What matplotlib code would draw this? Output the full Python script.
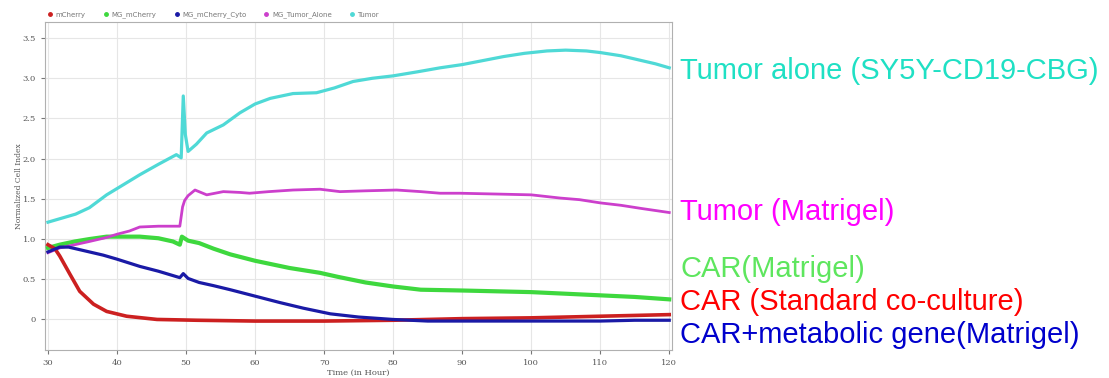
import matplotlib
matplotlib.use("Agg")
import matplotlib.pyplot as plt
from matplotlib.lines import Line2D

# series (time in hours, normalized cell index)
t_tumor = [30, 32, 34, 36, 38.5, 41, 43.3, 46, 48.6, 49.3, 49.6, 49.9, 50.3, 51.5, 53, 55.4, 57.8,
           60, 62.2, 65.5, 68.9, 71.5, 74.2, 77, 80, 83.5, 86.8, 90, 93, 96, 99, 102.3, 105, 108,
           110, 113, 116, 118, 120]
v_tumor = [1.21, 1.26, 1.31, 1.39, 1.55, 1.68, 1.80, 1.93, 2.05, 2.01, 2.78, 2.30, 2.09, 2.18, 2.32,
           2.42, 2.57, 2.68, 2.75, 2.81, 2.82, 2.88, 2.96, 3.00, 3.03, 3.08, 3.13, 3.17, 3.22, 3.27,
           3.31, 3.34, 3.35, 3.34, 3.32, 3.28, 3.22, 3.18, 3.13]

t_mg_tumor = [30, 31.7, 33.9, 36, 38.5, 40, 41.8, 43.3, 46, 49.1, 49.5, 49.8, 50.3, 51.3, 53, 55.4,
              57.8, 59.2, 62, 65.5, 69.4, 72.3, 76, 80.5, 84, 86.8, 89.7, 95, 100, 104.2, 107, 110,
              113, 116, 120]
v_mg_tumor = [0.83, 0.89, 0.93, 0.97, 1.02, 1.06, 1.10, 1.15, 1.16, 1.16, 1.40, 1.48, 1.54, 1.61,
              1.55, 1.59, 1.58, 1.57, 1.59, 1.61, 1.62, 1.59, 1.60, 1.61, 1.59, 1.57, 1.57, 1.56,
              1.55, 1.51, 1.49, 1.45, 1.42, 1.38, 1.33]

t_mg_mcherry = [30, 31.7, 33.9, 36, 38.5, 41, 43.3, 46, 48.1, 49.1, 49.4, 50.3, 51.9, 54, 56.4, 60,
                65, 69.4, 72, 76, 80, 84, 90, 95, 100, 105, 110, 115, 120]
v_mg_mcherry = [0.89, 0.93, 0.97, 1.00, 1.03, 1.03, 1.03, 1.01, 0.97, 0.93, 1.03, 0.98, 0.95, 0.88,
                0.81, 0.73, 0.64, 0.58, 0.53, 0.46, 0.41, 0.37, 0.36, 0.35, 0.34, 0.32, 0.30, 0.28,
                0.25]

t_cyto = [30, 31.7, 33, 35, 38, 40, 43.3, 46, 49.1, 49.6, 50.3, 51.9, 54, 56.4, 60, 63.6, 67, 70.9,
          75, 80, 85, 90, 95, 100, 105, 110, 115, 120]
v_cyto = [0.84, 0.90, 0.90, 0.86, 0.80, 0.75, 0.66, 0.60, 0.52, 0.57, 0.51, 0.46, 0.42, 0.37, 0.29,
          0.21, 0.14, 0.07, 0.03, 0.00, -0.02, -0.02, -0.02, -0.02, -0.02, -0.02, -0.01, -0.01]

t_mcherry = [30, 31, 31.7, 33.2, 34.6, 36.6, 38.5, 41.4, 45.8, 51.6, 60, 70, 80, 90, 100, 110, 120]
v_mcherry = [0.93, 0.88, 0.79, 0.56, 0.35, 0.19, 0.10, 0.04, 0.00, -0.01, -0.02, -0.02, -0.01, 0.01,
             0.02, 0.04, 0.06]

x_ticks = [30, 40, 50, 60, 70, 80, 90, 100, 110, 120]
y_ticks = [0, 0.5, 1.0, 1.5, 2.0, 2.5, 3.0, 3.5]
y_tick_labels = ["0", "0.5", "1.0", "1.5", "2.0", "2.5", "3.0", "3.5"]

legend_names = ["mCherry", "MG_mCherry", "MG_mCherry_Cyto", "MG_Tumor_Alone", "Tumor"]
right_labels = ["Tumor alone (SY5Y-CD19-CBG)", "Tumor (Matrigel)", "CAR(Matrigel)",
                "CAR (Standard co-culture)", "CAR+metabolic gene(Matrigel)"]

fig = plt.figure(figsize=(11.09, 3.78), dpi=100)
ax = fig.add_axes([45 / 1109, 1 - 350 / 378, 627 / 1109, 328 / 378])

ax.plot(t_tumor, v_tumor, color="#4fd9d6", lw=2.3, zorder=3)
ax.plot(t_mg_tumor, v_mg_tumor, color="#cc3fcc", lw=2.0, zorder=4)
ax.plot(t_mg_mcherry, v_mg_mcherry, color="#3ed83e", lw=3.0, zorder=3)
ax.plot(t_mcherry, v_mcherry, color="#cc2020", lw=2.6, zorder=5)
ax.plot(t_cyto, v_cyto, color="#1a1aa6", lw=2.3, zorder=6)

ax.set_xlim(29.57, 120.4)
ax.set_ylim(-0.38, 3.70)
ax.set_xticks(x_ticks)
ax.set_yticks(y_ticks)
ax.set_yticklabels(y_tick_labels)
ax.grid(True, color="#e6e6e6", lw=0.8)
ax.set_axisbelow(True)
for s in ax.spines.values():
    s.set_color("#b0b0b0")
    s.set_linewidth(0.8)
ax.tick_params(labelsize=6, colors="#777777", length=3, width=0.8, labelcolor="#555555")
for lab in ax.get_xticklabels() + ax.get_yticklabels():
    lab.set_family("DejaVu Serif")

ax.set_xlabel("Time (in Hour)", fontsize=6, color="#555555", family="DejaVu Serif", labelpad=1)
ax.set_ylabel("Normalized Cell Index", fontsize=5.5, color="#555555", family="DejaVu Serif",
              labelpad=0)

marker_colors = ["#cc2020", "#3ed83e", "#1a1aa6", "#cc3fcc", "#4fd9d6"]
handles = [Line2D([], [], ls="", marker="o", ms=2.5, color=c) for c in marker_colors]
leg = fig.legend(handles, legend_names, loc="center left", bbox_to_anchor=(44 / 1109, 1 - 15 / 378),
                 ncol=5, fontsize=5, frameon=False, handletextpad=0.3, columnspacing=2.4,
                 handlelength=1.0, borderaxespad=0)
for txt in leg.get_texts():
    txt.set_color("#777777")

label_colors = ["#1fe0c4", "#ff00ff", "#5ee65e", "#ff0000", "#0000cc"]
label_y = [71, 212, 269, 302, 335]
for lab, c, y in zip(right_labels, label_colors, label_y):
    fig.text(680 / 1109, 1 - y / 378, lab, color=c, fontsize=21, family="Liberation Sans",
             va="center", ha="left")

fig.savefig("out.png", dpi=100)
